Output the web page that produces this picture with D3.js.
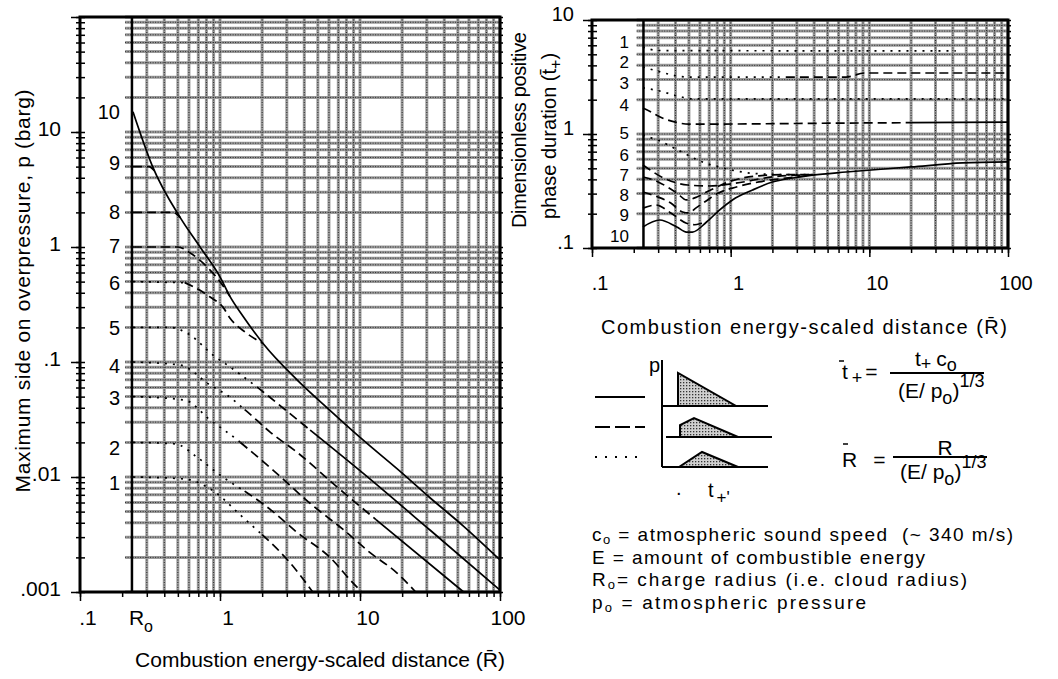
<!DOCTYPE html>
<html><head><meta charset="utf-8">
<script src="https://cdn.jsdelivr.net/npm/d3@7"></script>
<style>
body{margin:0;background:#fff}
svg{display:block}
text{font-family:"Liberation Sans",Arial,Helvetica,sans-serif;fill:#000;white-space:pre}
</style>
</head><body>
<svg id="c" width="1058" height="679"></svg>
<script>
// ---------------- DATA ----------------
const R0 = 0.235;                       // charge radius position on the scaled-distance axis
const rTickValues = [0.1, 1, 10, 100];
const rTickLabels = [".1", "1", "10", "100"];
const pTickValues = [0.001, 0.01, 0.1, 1, 10];
const pTickLabels = [".001", ".01", ".1", "1", "10"];
const tTickValues = [0.1, 1, 10];
const tTickLabels = [".1", "1", "10"];
const classNames = ["1","2","3","4","5","6","7","8","9","10"];
const pLabelValues = [0.0089, 0.0179, 0.0486, 0.092, 0.198, 0.487, 1.02, 2.0, 5.37, 14.9];
const tLabelValues = [6.41, 4.28, 2.8, 1.8, 1.02, 0.656, 0.436, 0.292, 0.194, 0.127];

// overpressure curves [R, p]
const pCurve1  = [[0.239,0.01],[0.56,0.0096],[0.92,0.0074],[1.39,0.0047],[2.09,0.003],[3.16,0.0018],[4.6,0.001]];
const pCurve2  = [[0.239,0.02],[0.48,0.0194],[0.685,0.0149],[1,0.0104],[1.56,0.0073],[2.39,0.005],[3.55,0.0033],[6.1,0.002],[8.9,0.0012],[10.3,0.001]];
const pCurve3  = [[0.239,0.05],[0.56,0.0467],[0.85,0.0313],[1.39,0.0201],[2.39,0.0115],[4.4,0.0059],[7.57,0.0035],[11.8,0.0022],[18.4,0.00146],[25,0.001]];
const pCurve4  = [[0.239,0.1],[0.52,0.094],[0.85,0.063],[1.12,0.0516],[1.51,0.0383],[2.28,0.0246],[3.6,0.0162],[6.85,0.0082],[13.2,0.0042],[55,0.001]];
const pCurve5  = [[0.239,0.2],[0.44,0.2],[0.61,0.172],[0.89,0.115],[1.18,0.0905],[1.84,0.0606],[2.55,0.044],[4.4,0.0256],[10.5,0.0108],[31.6,0.00346],[100,0.00104]];
const pCurve6  = [[0.239,0.5],[0.56,0.49],[0.72,0.42],[0.85,0.367],[1.05,0.30],[1.18,0.24],[1.51,0.182],[1.93,0.15],[2.03,0.145]];
const pCurve7  = [[0.239,1],[0.5,1],[0.61,0.89],[0.85,0.63],[1,0.5],[1.18,0.37]];
const pCurve8  = [[0.239,2],[0.46,2],[0.52,1.8]];
const pCurve9  = [[0.239,5],[0.31,5],[0.34,4.6]];
const pCurve10 = [[0.239,15],[0.33,5],[0.52,1.8],[0.72,1.0],[1,0.55],[1.18,0.37],[1.46,0.25],[2.03,0.145],[3.55,0.07],[6.1,0.038],[10.5,0.021],[20,0.0108],[31.6,0.0066],[54,0.0038],[100,0.0019]];

// positive phase duration curves [R, t+]
const tCurve1  = [[0.233,5.8],[0.3,5.4],[42,5.35]];
const tCurve2  = [[0.233,3.87],[0.3,3.55],[0.4,3.25],[0.5,3.16],[6.8,3.16],[9.2,3.43],[100,3.43]];
const tCurve3  = [[0.233,2.54],[0.3,2.4],[0.45,2.1],[0.55,2.03],[100,2.03]];
const tCurve4  = [[0.233,1.69],[0.27,1.55],[0.31,1.41],[0.4,1.27],[0.5,1.22],[9,1.25],[100,1.27]];
const tCurve5  = [[0.233,0.98],[0.27,0.92],[0.3,0.88],[0.42,0.72],[0.6,0.58],[0.9,0.5],[1.5,0.45],[2.5,0.44],[3.9,0.44]];
const tCurve6  = [[0.233,0.535],[0.33,0.41],[0.49,0.357],[0.7,0.35],[1.08,0.37],[2.0,0.42],[3.9,0.44]];
const tCurve7  = [[0.233,0.42],[0.3,0.38],[0.35,0.343],[0.41,0.303],[0.48,0.264],[0.57,0.28],[0.67,0.31],[1.03,0.39],[1.6,0.43],[2.5,0.44],[3.9,0.44]];
const tCurve8  = [[0.233,0.31],[0.3,0.28],[0.37,0.248],[0.45,0.207],[0.5,0.203],[0.56,0.224],[0.67,0.26],[0.8,0.3],[1.1,0.343],[1.6,0.38],[2.5,0.41],[3.9,0.436]];
const tCurve9  = [[0.233,0.224],[0.29,0.238],[0.37,0.203],[0.48,0.165],[0.55,0.16],[0.62,0.165],[0.67,0.169]];
const tCurve10 = [[0.233,0.153],[0.308,0.176],[0.409,0.153],[0.48,0.138],[0.53,0.138],[0.67,0.169],[0.83,0.215],[1.03,0.264],[1.44,0.323],[2.0,0.379],[2.8,0.411],[3.9,0.436],[6.8,0.464],[20,0.514],[47,0.557],[100,0.57]];

const pCurves = [pCurve1,pCurve2,pCurve3,pCurve4,pCurve5,pCurve6,pCurve7,pCurve8,pCurve9,pCurve10];
const tCurves = [tCurve1,tCurve2,tCurve3,tCurve4,tCurve5,tCurve6,tCurve7,tCurve8,tCurve9,tCurve10];

// ---------------- STYLE (line type changes along each curve: [from R, type]) ----------------
const pStyles = [
  [[0,"dot"],[2.0,"dash"]],
  [[0,"dot"],[1.5,"dash"]],
  [[0,"dot"],[1.4,"dash"]],
  [[0,"dot"],[1.5,"dash"],[13,"solid"]],
  [[0,"dot"],[1.84,"dash"],[4.4,"solid"]],
  [[0,"dot"],[0.56,"dash"]],
  [[0,"dash"]],
  [[0,"dash"]],
  [[0,"dash"]],
  [[0,"solid"]]
];
const tStyles = [
  [[0,"dot"]],
  [[0,"dot"],[2.5,"dash"]],
  [[0,"dot"]],
  [[0,"dash"],[20,"solid"]],
  [[0,"dot"]],
  [[0,"dash"]],
  [[0,"dash"]],
  [[0,"dash"]],
  [[0,"dash"]],
  [[0,"solid"]]
];
const dashMap = {solid:null, dash:"9,5", dot:"2,6"};

// ---------------- HELPERS ----------------
const svg = d3.select("#c");
function logVals(lo, hi){
  const v=[];
  for(let e=Math.floor(Math.log10(lo)); e<=Math.ceil(Math.log10(hi)); e++)
    for(let d=1; d<10; d++){ const val=+(d*Math.pow(10,e)).toPrecision(3); if(val>=lo*0.999 && val<=hi*1.001) v.push(val); }
  return v;
}
function interp(pts, R){
  if(R<=pts[0][0]) return pts[0][1];
  for(let i=0;i<pts.length-1;i++){
    const a=pts[i], b=pts[i+1];
    if(R>=a[0] && R<=b[0]){
      const t=(Math.log(R)-Math.log(a[0]))/(Math.log(b[0])-Math.log(a[0]));
      return Math.exp(Math.log(a[1])+t*(Math.log(b[1])-Math.log(a[1])));
    }
  }
  return pts[pts.length-1][1];
}
function split(pts, breaks){
  const segs=[]; const first=pts[0][0], last=pts[pts.length-1][0];
  for(let i=0;i<breaks.length;i++){
    const lo=Math.max(first, breaks[i][0]);
    const hi=i+1<breaks.length? Math.min(last, breaks[i+1][0]) : last;
    if(hi<=lo) continue;
    const s=[[lo,interp(pts,lo)], ...pts.filter(p=>p[0]>lo && p[0]<hi), [hi,interp(pts,hi)]];
    segs.push({type:breaks[i][1], pts:s});
  }
  return segs;
}
function drawGrid(g, x, y, xDom, yDom, gridStart){
  const vx = logVals(xDom[0], xDom[1]).filter(v => v > R0*1.1);
  const vy = logVals(yDom[0], yDom[1]);
  const layers=[{w:3,c:"#9c9c9c",da:null},{w:1,c:"#2a2a2a",da:"1,1.5"}];
  layers.forEach(L=>{
    g.append("g").selectAll("line").data(vx).join("line")
      .attr("x1",d=>x(d)).attr("x2",d=>x(d)).attr("y1",y(yDom[1])).attr("y2",y(yDom[0]))
      .attr("stroke",L.c).attr("stroke-width",L.w).attr("stroke-dasharray",L.da);
    g.append("g").selectAll("line").data(vy).join("line")
      .attr("x1",x(gridStart)).attr("x2",x(xDom[1])).attr("y1",d=>y(d)).attr("y2",d=>y(d))
      .attr("stroke",L.c).attr("stroke-width",L.w).attr("stroke-dasharray",L.da);
  });
}
function axes(g, x, y, xDom, yDom){
  const yAll=logVals(yDom[0],yDom[1]), xAll=logVals(xDom[0],xDom[1]);
  const yMaj=yAll.filter(v=>Math.abs(Math.log10(v)-Math.round(Math.log10(v)))<1e-6);
  const xMaj=xAll.filter(v=>Math.abs(Math.log10(v)-Math.round(Math.log10(v)))<1e-6);
  const rm = s=>s.call(a=>a.select(".domain").remove()).call(a=>a.selectAll("line").attr("stroke","#000").attr("stroke-width",1.5));
  g.append("g").attr("transform",`translate(${x(xDom[0])},0)`).call(d3.axisLeft(y).tickValues(yAll).tickSize(4).tickFormat("")).call(rm);
  g.append("g").attr("transform",`translate(${x(xDom[0])},0)`).call(d3.axisLeft(y).tickValues(yMaj).tickSize(9).tickFormat("")).call(rm);
  g.append("g").attr("transform",`translate(${x(xDom[0])},0)`).call(d3.axisRight(y).tickValues(yAll).tickSize(5).tickFormat("")).call(rm);
  g.append("g").attr("transform",`translate(${x(xDom[1])},0)`).call(d3.axisRight(y).tickValues(yAll).tickSize(3).tickFormat("")).call(rm);
  g.append("g").attr("transform",`translate(0,${y(yDom[0])})`).call(d3.axisBottom(x).tickValues(xAll).tickSize(5).tickFormat("")).call(rm);
  g.append("g").attr("transform",`translate(0,${y(yDom[0])})`).call(d3.axisBottom(x).tickValues(xMaj).tickSize(9).tickFormat("")).call(rm);
  g.append("rect").attr("x",x(xDom[0])).attr("y",y(yDom[1])).attr("width",x(xDom[1])-x(xDom[0])).attr("height",y(yDom[0])-y(yDom[1]))
    .attr("fill","none").attr("stroke","#000").attr("stroke-width",3);
  g.append("line").attr("x1",x(R0)).attr("x2",x(R0)).attr("y1",y(yDom[1])).attr("y2",y(yDom[0])).attr("stroke","#000").attr("stroke-width",2.5);
}
function curves(g, x, y, list, styles){
  const line=d3.line().x(d=>x(d[0])).y(d=>y(d[1])).curve(d3.curveMonotoneX);
  list.forEach((pts,i)=>{
    split(pts, styles[i]).forEach(s=>{
      g.append("path").attr("d",line(s.pts)).attr("fill","none").attr("stroke","#000")
        .attr("stroke-width",1.7).attr("stroke-dasharray",dashMap[s.type]);
    });
  });
}

// ---------------- LEFT CHART ----------------
const xL = d3.scaleLog().domain([0.1,100]).range([80,500]);
const yL = d3.scaleLog().domain([0.001,100]).range([592,17]);
const gL = svg.append("g");
drawGrid(gL, xL, yL, [0.1,100], [0.001,100], 0.21);
axes(gL, xL, yL, [0.1,100], [0.001,100]);
curves(gL, xL, yL, pCurves, pStyles);

gL.append("g").selectAll("text").data(pTickValues).join("text")
  .attr("x",61).attr("y",d=>yL(d)+4).attr("text-anchor","end").attr("font-size",21).text((d,i)=>pTickLabels[i]);
gL.append("g").selectAll("text").data(rTickValues).join("text")
  .attr("x",d=>xL(d)+8).attr("y",625).attr("text-anchor","middle").attr("font-size",21).text((d,i)=>rTickLabels[i]);
const r0t = gL.append("text").attr("x",xL(R0)-3).attr("y",625).attr("font-size",21).text("R");
r0t.append("tspan").attr("dy",7).attr("font-size",16).text("o");
gL.append("g").selectAll("text").data(pLabelValues).join("text")
  .attr("x",120).attr("y",d=>yL(d)+7).attr("text-anchor","end").attr("font-size",20).text((d,i)=>classNames[i]);

gL.append("text").attr("x",135).attr("y",667).attr("font-size",21)
  .attr("textLength",370).attr("lengthAdjust","spacing").text("Combustion energy-scaled distance (R\u0304)");
gL.append("text").attr("transform","translate(30,291) rotate(-90)").attr("text-anchor","middle").attr("font-size",21)
  .attr("textLength",403).attr("lengthAdjust","spacing").text("Maximum side on overpressure, p (barg)");

// ---------------- RIGHT CHART ----------------
const xR = d3.scaleLog().domain([0.1,100]).range([592,1008]);
const yR = d3.scaleLog().domain([0.1,10]).range([248,20]);
const gR = svg.append("g");
drawGrid(gR, xR, yR, [0.1,100], [0.1,10], 0.21);
axes(gR, xR, yR, [0.1,100], [0.1,10]);
curves(gR, xR, yR, tCurves, tStyles);

gR.append("g").selectAll("text").data(tTickValues).join("text")
  .attr("x",574).attr("y",d=>yR(d)+1).attr("text-anchor","end").attr("font-size",20).text((d,i)=>tTickLabels[i]);
gR.append("g").selectAll("text").data(rTickValues).join("text")
  .attr("x",d=>xR(d)+8).attr("y",290).attr("text-anchor","middle").attr("font-size",20).text((d,i)=>rTickLabels[i]);
gR.append("g").selectAll("text").data(tLabelValues).join("text")
  .attr("x",629).attr("y",d=>yR(d)+6).attr("text-anchor","end").attr("font-size",17).text((d,i)=>classNames[i]);
gR.append("text").attr("x",601).attr("y",334).attr("font-size",20)
  .attr("textLength",406).attr("lengthAdjust","spacing").text("Combustion energy-scaled distance (R\u0304)");
gR.append("text").attr("transform","translate(526,130) rotate(-90)").attr("text-anchor","middle").attr("font-size",20)
  .attr("textLength",196).attr("lengthAdjust","spacing").text("Dimensionless positive");
const yt2 = gR.append("text").attr("transform","translate(556,136) rotate(-90)").attr("text-anchor","middle").attr("font-size",20);
yt2.append("tspan").text("phase duration (t\u0304");
yt2.append("tspan").attr("dy",5).attr("font-size",16).text("+");
yt2.append("tspan").attr("dy",-5).text(")");

// ---------------- LEGEND / DEFINITIONS ----------------
const defs = svg.append("defs");
const pat = defs.append("pattern").attr("id","stip").attr("width",3).attr("height",3).attr("patternUnits","userSpaceOnUse");
pat.append("rect").attr("width",3).attr("height",3).attr("fill","#d0d0d0");
pat.append("rect").attr("width",1.3).attr("height",1.3).attr("fill","#333");

const legTypes = ["solid","dash","dot"];
const gLeg = svg.append("g").attr("transform","translate(595,397)");
gLeg.selectAll("line").data(legTypes).join("line")
  .attr("x1",0).attr("x2",50).attr("y1",(d,i)=>i*30).attr("y2",(d,i)=>i*30)
  .attr("stroke","#000").attr("stroke-width",2)
  .attr("stroke-dasharray",d=>d==="dash"?"15,5":d==="dot"?"2,8":null);

// pressure-time sketches (shape outlines in sketch units)
const sketchShapes = [
  [[16,0],[16,-33],[74,0]],
  [[14,0],[14,-12],[28,-19],[72,0]],
  [[17,0],[40,-15],[76,0]]
];
const sketchOrigins = [[662,406],[666,437],[662,467]];
const gSk = svg.append("g");
gSk.append("line").attr("x1",662).attr("x2",662).attr("y1",360).attr("y2",467).attr("stroke","#000").attr("stroke-width",2);
sketchShapes.forEach((s,i)=>{
  const [ox,oy]=sketchOrigins[i];
  const g=gSk.append("g").attr("transform",`translate(${ox},${oy})`);
  g.append("polygon").attr("points",s.map(p=>p.join(",")).join(" ")).attr("fill","url(#stip)").attr("stroke","#000").attr("stroke-width",2);
  g.append("line").attr("x1",0).attr("x2",106).attr("y1",0).attr("y2",0).attr("stroke","#000").attr("stroke-width",2);
});
svg.append("text").attr("x",649).attr("y",372).attr("font-size",20).text("p");
svg.append("text").attr("x",676).attr("y",495).attr("font-size",20).text(".");
const tp = svg.append("text").attr("x",708).attr("y",497).attr("font-size",20);
tp.append("tspan").text("t");
tp.append("tspan").attr("dx",3).attr("dy",6).attr("font-size",17).text("+'");

// formula t+
svg.append("line").attr("x1",839).attr("x2",844).attr("y1",361).attr("y2",361).attr("stroke","#000").attr("stroke-width",1.5);
const f1 = svg.append("text").attr("x",842).attr("y",379).attr("font-size",21);
f1.append("tspan").text("t");
f1.append("tspan").attr("dx",4).attr("dy",5).attr("font-size",18).text("+");
f1.append("tspan").attr("dx",3).attr("dy",-5).text("=");
svg.append("line").attr("x1",890).attr("x2",984).attr("y1",373).attr("y2",373).attr("stroke","#000").attr("stroke-width",2);
const n1 = svg.append("text").attr("x",915).attr("y",366).attr("font-size",21);
n1.append("tspan").text("t");
n1.append("tspan").attr("dy",4).attr("font-size",18).text("+");
n1.append("tspan").attr("dx",5).attr("dy",-4).text("c");
n1.append("tspan").attr("dy",5).attr("font-size",18).text("o");
const d1 = svg.append("text").attr("x",898).attr("y",398).attr("font-size",21);
d1.append("tspan").text("(E/ p");
d1.append("tspan").attr("dy",6).attr("font-size",18).text("o");
d1.append("tspan").attr("dy",-6).text(")");
d1.append("tspan").attr("dy",-11).attr("font-size",18).text("1/3");

// formula R
svg.append("line").attr("x1",843).attr("x2",848).attr("y1",444).attr("y2",444).attr("stroke","#000").attr("stroke-width",1.5);
const f2 = svg.append("text").attr("x",842).attr("y",467).attr("font-size",21);
f2.append("tspan").text("R");
f2.append("tspan").attr("dx",16).text("=");
svg.append("line").attr("x1",893).attr("x2",987).attr("y1",457).attr("y2",457).attr("stroke","#000").attr("stroke-width",2);
svg.append("text").attr("x",945).attr("y",455).attr("text-anchor","middle").attr("font-size",21).text("R");
const d2 = svg.append("text").attr("x",900).attr("y",479).attr("font-size",21);
d2.append("tspan").text("(E/ p");
d2.append("tspan").attr("dy",6).attr("font-size",18).text("o");
d2.append("tspan").attr("dy",-6).text(")");
d2.append("tspan").attr("dy",-11).attr("font-size",18).text("1/3");

// definitions
const defLines = [
  {main:"c", sub:"o", rest:" = atmospheric sound speed  (~ 340 m/s)", len:421},
  {main:"E", sub:"", rest:" = amount of combustible energy", len:333},
  {main:"R", sub:"o", rest:"= charge radius (i.e. cloud radius)", len:375},
  {main:"p", sub:"o", rest:" = atmospheric pressure", len:274}
];
defLines.forEach((d,i)=>{
  const t = svg.append("text").attr("x",592).attr("y",541+i*22.5).attr("font-size",19)
    .attr("textLength",d.len).attr("lengthAdjust","spacing");
  t.append("tspan").text(d.main);
  if(d.sub){ t.append("tspan").attr("dy",3).attr("font-size",13).text(d.sub); t.append("tspan").attr("dy",-3).text(d.rest); }
  else t.append("tspan").text(d.rest);
});
</script>
</body></html>
